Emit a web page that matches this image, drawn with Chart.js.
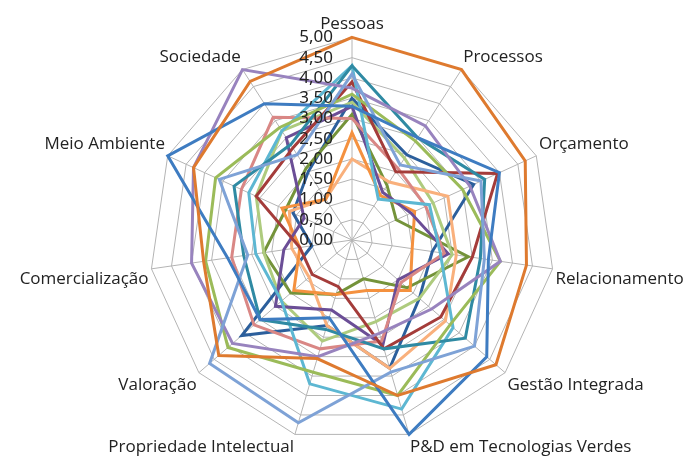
<!DOCTYPE html>
<html>
<head>
<meta charset="utf-8">
<script src="https://cdn.jsdelivr.net/npm/chart.js@4.4.1/dist/chart.umd.min.js"></script>
<style>
  html, body { margin: 0; padding: 0; background: #fff; }
  #wrap { width: 695px; height: 462px; }
</style>
</head>
<body>
<div id="wrap"><canvas id="radar"></canvas></div>
<script>
// Axis categories
const categorias = ['Pessoas', 'Processos', 'Orçamento', 'Relacionamento', 'Gestão Integrada',
  'P&D em Tecnologias Verdes', 'Propriedade Intelectual', 'Valoração', 'Comercialização',
  'Meio Ambiente', 'Sociedade'];

// Series values (one array per line)
const laranjaEscuro = [5.0, 5.0, 4.7, 4.35, 4.7, 4.0, 3.05, 4.35, 3.7, 4.3, 4.65];
const azul          = [3.3, 3.0, 4.0, 3.4, 4.4, 5.0, 2.0, 3.0, 3.1, 5.0, 4.0];
const azulClaro     = [4.1, 2.2, 3.5, 3.3, 4.0, 3.4, 4.7, 4.65, 2.6, 3.6, 2.5];
const lilas         = [3.75, 3.35, 3.2, 3.7, 2.6, 2.4, 3.0, 3.9, 4.0, 4.3, 5.0];
const verde         = [3.6, 2.9, 3.0, 3.7, 3.2, 4.0, 3.4, 4.05, 3.65, 3.7, 3.3];
const petroleo      = [4.3, 3.0, 3.6, 3.2, 3.7, 2.8, 2.3, 3.0, 2.7, 3.2, 2.8];
const celeste       = [4.3, 1.2, 2.1, 2.2, 3.3, 4.35, 3.7, 2.3, 2.4, 2.8, 3.2];
const vinho         = [3.9, 2.0, 3.95, 3.0, 2.9, 2.8, 1.2, 1.3, 1.3, 2.6, 2.7];
const salmao        = [3.0, 2.1, 2.0, 2.3, 1.6, 2.6, 2.8, 3.2, 3.0, 3.0, 3.6];
const roxo          = [3.3, 1.4, 1.6, 2.4, 1.5, 2.7, 1.8, 2.5, 1.7, 1.3, 3.0];
const laranja       = [2.65, 1.3, 1.7, 1.5, 1.9, 1.3, 1.4, 1.9, 1.3, 1.9, 1.2];
const pessego       = [2.0, 1.7, 2.6, 2.6, 3.05, 3.3, 2.2, 1.4, 1.5, 1.7, 1.2];
const verdeClaro    = [3.4, 2.4, 2.2, 2.5, 2.2, 2.1, 2.6, 2.3, 2.2, 2.6, 3.2];
const verdeEscuro   = [3.1, 1.6, 1.2, 2.9, 1.8, 1.0, 1.4, 2.0, 2.2, 1.8, 2.1];
const marinho       = [3.5, 2.5, 3.3, 2.0, 2.2, 3.3, 2.2, 3.6, 1.0, 1.6, 2.0];

// Radial tick labels
const tickValores = [0, 0.5, 1, 1.5, 2, 2.5, 3, 3.5, 4, 4.5, 5];

const series = [
  [laranjaEscuro, '#DE7A2F'],
  [azul, '#3E7CC1'],
  [azulClaro, '#7EA2D6'],
  [lilas, '#9883BE'],
  [verde, '#9BBB59'],
  [petroleo, '#2F8AA3'],
  [celeste, '#5DB7D2'],
  [vinho, '#A43C3A'],
  [salmao, '#D98785'],
  [roxo, '#6B4E96'],
  [laranja, '#F4913F'],
  [pessego, '#F9B07C'],
  [verdeClaro, '#AECB7E'],
  [verdeEscuro, '#74933A'],
  [marinho, '#2C5F9C']
];

// Tick labels drawn left of the vertical axis, like the original
const tickLabelPlugin = {
  id: 'tickLabels',
  afterDatasetsDraw(chart) {
    const r = chart.scales.r;
    const ctx = chart.ctx;
    ctx.save();
    ctx.font = '17px "Noto Sans"';
    ctx.fillStyle = '#222';
    ctx.textAlign = 'right';
    ctx.textBaseline = 'middle';
    tickValores.forEach(v => {
      const d = r.getDistanceFromCenterForValue(v);
      ctx.fillText(v.toFixed(2).replace('.', ','), r.xCenter - 19, r.yCenter - d);
    });
    ctx.restore();
  }
};

new Chart(document.getElementById('radar'), {
  type: 'radar',
  data: {
    labels: categorias,
    datasets: series.map(([vals, cor]) => ({
      data: vals,
      borderColor: cor,
      backgroundColor: 'transparent',
      borderWidth: 3,
      pointRadius: 0,
      fill: false,
      tension: 0
    }))
  },
  options: {
    responsive: true,
    maintainAspectRatio: false,
    animation: false,
    layout: { padding: { top: 10, bottom: -18, left: 10, right: 0 } },
    plugins: { legend: { display: false }, tooltip: { enabled: false } },
    scales: {
      r: {
        min: 0,
        max: 5,
        ticks: { stepSize: 0.5, display: false },
        grid: { color: '#b4b4b4', lineWidth: 1 },
        angleLines: { color: '#b4b4b4', lineWidth: 1 },
        pointLabels: {
          color: '#222',
          font: { family: 'Open Sans', size: 17 },
          padding: 3
        }
      }
    }
  },
  plugins: [tickLabelPlugin]
});
</script>
</body>
</html>
